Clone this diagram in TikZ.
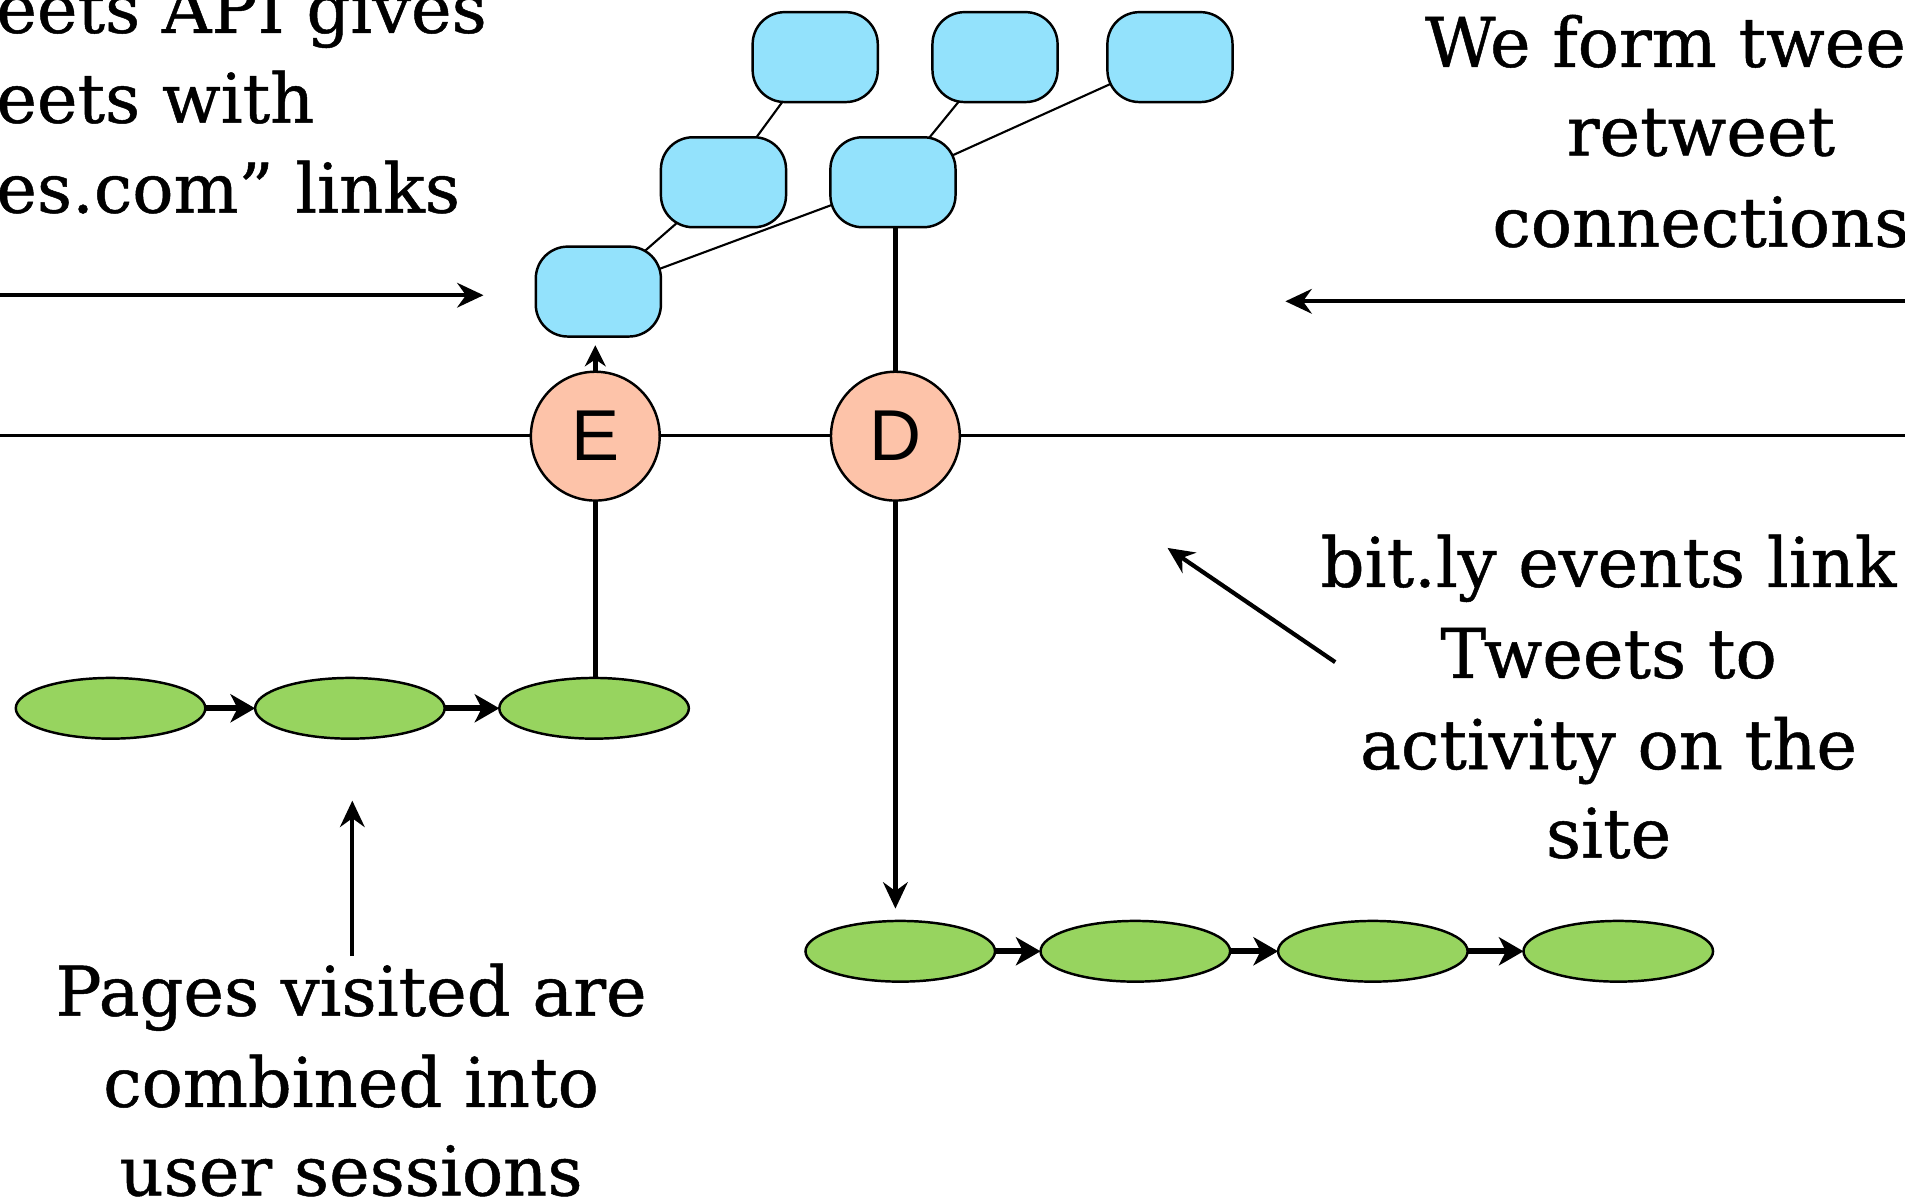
\documentclass[tikz,border=0pt]{standalone}
\usepackage{fontspec}
\setmainfont[FakeBold=0.7]{DejaVu Serif}
\newfontfamily\letterfont{Liberation Sans}
\usetikzlibrary{arrows.meta,shapes.geometric}

\definecolor{tweetblue}{HTML}{93E2FC}
\definecolor{eventpink}{HTML}{FDC3A9}
\definecolor{pagegreen}{HTML}{97D45F}

\pgfdeclarelayer{bg}
\pgfsetlayers{bg,main}

\begin{document}
\begin{tikzpicture}[x=0.012149cm, y=-0.012149cm,
  every node/.style={inner sep=0pt, outer sep=0pt},
  tweet/.style={draw, line width=0.7pt, fill=tweetblue, rounded corners=0.32cm,
    minimum width=1.251cm, minimum height=0.899cm},
  event/.style={circle, draw, line width=0.7pt, fill=eventpink, minimum size=1.288cm,
    font=\letterfont\fontsize{20.5}{20.5}\selectfont},
  page/.style={ellipse, draw, line width=0.7pt, fill=pagegreen,
    minimum width=1.895cm, minimum height=0.607cm},
  note/.style={font=\fontsize{19.5}{23}\selectfont, anchor=base},
  thinline/.style={line width=0.6pt},
  link/.style={line width=1.3pt},
  pointer/.style={line width=1.2pt, -{Stealth[length=7.5pt,width=7pt,inset=2.5pt]}},
  flow/.style={line width=1.7pt, -{Stealth[length=7pt,width=8pt,inset=2pt]}},
]
\useasboundingbox (0,0) rectangle (1568,991);
\clip (0,0) rectangle (1568,991);

% tweet / retweet tree
\node[tweet] (b1) at (492.5,240) {};
\node[tweet] (b2) at (595.5,150) {};
\node[tweet] (b3) at (735,150) {};
\node[tweet] (b4) at (671,47) {};
\node[tweet] (b5) at (819,47) {};
\node[tweet] (b6) at (963,47) {};

% bit.ly events on the timeline
\node[event] (e) at (490,359) {E};
\node[event] (d) at (737,359) {D};

% page visits grouped into sessions
\node[page] (g1) at (91,583) {};
\node[page] (g2) at (288,583) {};
\node[page] (g3) at (489,583) {};
\node[page] (g4) at (741,783) {};
\node[page] (g5) at (934.5,783) {};
\node[page] (g6) at (1130,783) {};
\node[page] (g7) at (1332,783) {};

\coordinate (lineL) at (0,358.5);
\coordinate (lineR) at (1568,358.5);

\begin{pgfonlayer}{bg}
  \draw[thinline] (lineL) -- (lineR);
  \draw[thinline] (b1.center) -- (b2.center);
  \draw[thinline] (b1.center) -- (b3.center);
  \draw[thinline] (b2.center) -- (b4.center);
  \draw[thinline] (b3.center) -- (b5.center);
  \draw[thinline] (b3.center) -- (b6.center);
\end{pgfonlayer}

\draw[link] (d.north) -- (d.north |- b3.south);
\draw[link, -{Stealth[length=6pt,width=6pt,inset=2pt]}, shorten >=2.5pt]
  (e.north) -- (e.north |- b1.south);
\draw[link] (e.south) -- (e.south |- g3.north);
\draw[link, -{Stealth[length=7.5pt,width=7pt,inset=2.5pt]}, shorten >=3.5pt]
  (d.south) -- (d.south |- g4.north);

\draw[flow] (g1) -- (g2);
\draw[flow] (g2) -- (g3);
\draw[flow] (g4) -- (g5);
\draw[flow] (g5) -- (g6);
\draw[flow] (g6) -- (g7);

% annotation arrows
\coordinate (apiTail) at (0,243);
\coordinate (apiHead) at (398,243);
\coordinate (rtTail) at (1568,248);
\coordinate (rtHead) at (1058,248);
\coordinate (bitTail) at (1099,545);
\coordinate (bitHead) at (961,451);
\coordinate (sessTail) at (290,787);
\coordinate (sessHead) at (290,659);
\draw[pointer] (apiTail) -- (apiHead);
\draw[pointer] (rtTail) -- (rtHead);
\draw[pointer] (bitTail) -- (bitHead);
\draw[pointer] (sessTail) -- (sessHead);

% annotation texts
\node[note, anchor=base west] (t1) at (-3,27) {eets API gives};
\node[note, anchor=base west] (t2) at (-3,101) {eets with};
\node[note, anchor=base west] (t3) at (-3,175) {es.com” links};

\node[note, anchor=base west] (r1) at (1173,55) {We form twee};
\node[note] (r2) at (1400,128) {retweet};
\node[note] (r3) at (1400,203) {connections};

\node[note] (s1) at (1324,483) {bit.ly events link};
\node[note] (s2) at (1324,558) {Tweets to};
\node[note] (s3) at (1324,633) {activity on the};
\node[note] (s4) at (1324,706) {site};

\node[note] (p1) at (289,836) {Pages visited are};
\node[note] (p2) at (289,911) {combined into};
\node[note] (p3) at (289,984) {user sessions};
\end{tikzpicture}
\end{document}
